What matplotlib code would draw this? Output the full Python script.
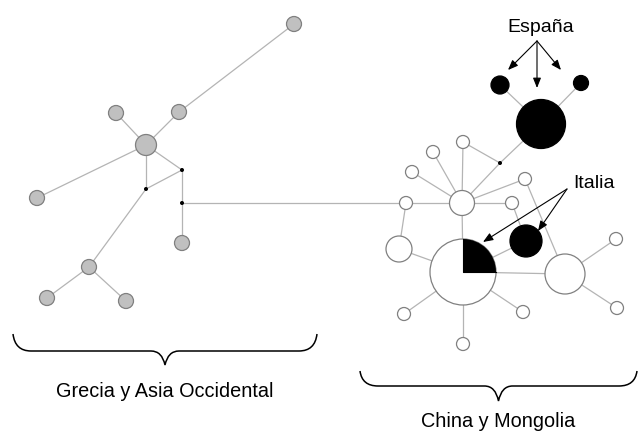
import numpy as np
import matplotlib
matplotlib.use("Agg")
import matplotlib.pyplot as plt
from matplotlib.patches import Circle, Wedge, PathPatch
from matplotlib.path import Path

plt.rcParams["font.family"] = ["Liberation Sans", "DejaVu Sans"]

# node positions in picture pixels (x right, y down), radius and kind
# g = grey haplotype, w = white haplotype, b = black (Spain/Italy),
# p = white with a black quarter, d = median vector (tiny black dot)
node_x = [294, 179, 116, 146, 37, 182, 146, 182, 182, 89, 47, 126,
          406, 462, 433, 463, 412, 500, 525, 512, 541, 500, 581,
          399, 463, 526, 565, 404, 523, 463, 616, 617]
node_y = [25, 113, 114, 146, 199, 171, 190, 204, 244, 268, 299, 302,
          204, 204, 153, 143, 173, 164, 180, 204, 125, 86, 84,
          250, 273, 242, 275, 315, 313, 345, 240, 309]
node_r = [7.5, 7.5, 7.5, 10.5, 7.5, 2, 2, 2, 7.5, 7.5, 7.5, 7.5,
          6.5, 12.5, 6.5, 6.5, 6.5, 2, 6.5, 6.5, 24.5, 9, 7.5,
          13, 33, 16, 20, 6.5, 6.5, 6.5, 6.5, 6.5]
node_kind = list("gggggdddgggg" "wwwwwdwwbbb" "wpbwwwwww")

edges = [(0, 1), (1, 3), (2, 3), (3, 4), (3, 5), (3, 6), (6, 5), (5, 7), (7, 8),
         (6, 9), (9, 10), (9, 11), (7, 12),
         (12, 13), (14, 13), (16, 13), (15, 13), (15, 17), (17, 13), (17, 20),
         (20, 21), (20, 22), (13, 18), (13, 19), (13, 24), (12, 23), (23, 24),
         (24, 27), (24, 28), (24, 29), (24, 26), (24, 25), (25, 19), (18, 26),
         (26, 30), (26, 31)]

# labels: text, x, baseline y, arrow origin, arrow tips
spain_label = ("España", 541, 32)
spain_from = (537, 42)
spain_to = [(508, 71), (537, 89), (561, 71)]
italy_label = ("Italia", 594, 188)
italy_from = (567, 190)
italy_to = [(483, 243), (538, 232)]

# braces: x0, x1, end y, flat y, tip y, label, label baseline
braces = [(13, 317, 335, 352, 366, "Grecia y Asia Occidental", 397),
          (360, 637, 372, 387, 402, "China y Mongolia", 427)]

EDGE_C, LINE_C, GREY_C = "#808080", "#b4b4b4", "#c0c0c0"

fig = plt.figure(figsize=(6.38, 4.35), dpi=100)
ax = fig.add_axes([0, 0, 1, 1])
ax.set_xlim(0, 638)
ax.set_ylim(435, 0)
ax.axis("off")

for a, b in edges:
    ax.plot([node_x[a], node_x[b]], [node_y[a], node_y[b]], color=LINE_C, lw=0.9, zorder=1)

for x, y, r, k in zip(node_x, node_y, node_r, node_kind):
    if k == "d":
        ax.add_patch(Circle((x, y), r, fc="black", ec="none", zorder=3))
    elif k == "g":
        ax.add_patch(Circle((x, y), r, fc=GREY_C, ec=EDGE_C, lw=0.9, zorder=2))
    elif k == "b":
        ax.add_patch(Circle((x, y), r, fc="black", ec="black", lw=0.9, zorder=2))
    else:
        ax.add_patch(Circle((x, y), r, fc="white", ec=EDGE_C, lw=0.9, zorder=2))
        if k == "p":
            # upper-right quarter (y axis is inverted)
            ax.add_patch(Wedge((x, y), r, 270, 360, fc="black", ec="none", zorder=3))
            ax.plot([x, x, x + r], [y - r, y, y], color="black", lw=0.8, zorder=3)

for (txt, tx, ty), src, tips in [(spain_label, spain_from, spain_to),
                                 (italy_label, italy_from, italy_to)]:
    ax.text(tx, ty, txt, ha="center", va="baseline", fontsize=14, color="black")
    for tip in tips:
        ax.annotate("", xy=tip, xytext=src,
                    arrowprops=dict(arrowstyle="-|>,head_length=0.5,head_width=0.2",
                                    color="black", lw=0.8,
                                    mutation_scale=12, shrinkA=0, shrinkB=0))


def brace(ax, x0, x1, y0, yf, yt):
    xm = (x0 + x1) / 2
    verts = [(x0, y0), (x0 + 2, yf), (x0 + 18, yf),
             (xm - 14, yf),
             (xm - 3, yf), (xm, yt),
             (xm + 3, yf), (xm + 14, yf),
             (x1 - 18, yf),
             (x1 - 2, yf), (x1, y0)]
    codes = [Path.MOVETO, Path.CURVE3, Path.CURVE3, Path.LINETO,
             Path.CURVE3, Path.CURVE3, Path.CURVE3, Path.CURVE3,
             Path.LINETO, Path.CURVE3, Path.CURVE3]
    ax.add_patch(PathPatch(Path(verts, codes), fc="none", ec="black", lw=1.1))


for x0, x1, y0, yf, yt, lab, ly in braces:
    brace(ax, x0, x1, y0, yf, yt)
    ax.text((x0 + x1) / 2, ly, lab, ha="center", va="baseline", fontsize=14.3)

fig.savefig("out.png", dpi=100)
